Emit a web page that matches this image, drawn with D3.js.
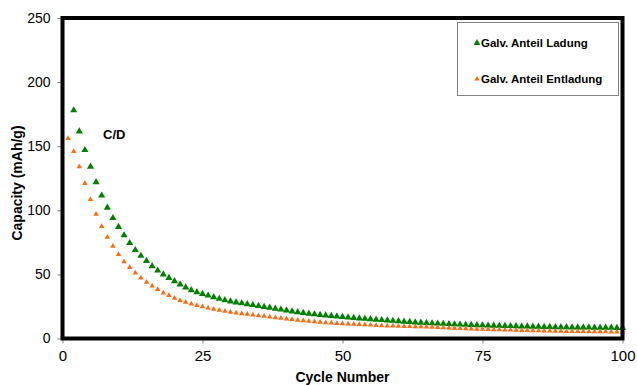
<!DOCTYPE html>
<html>
<head>
<meta charset="utf-8">
<script src="https://cdn.jsdelivr.net/npm/d3@7"></script>
<style>
  body { margin: 0; background: #fff; }
  text { font-family: "Liberation Sans", Arial, sans-serif; }
</style>
</head>
<body>
<svg id="chart" width="637" height="385"></svg>
<script>
// Data
const chargeCycleStart = 2; // Ladung starts at cycle 2
const chargeValues = [
  178, 161.5, 147, 134, 122, 111.5, 102, 94, 87, 80.5,
  74.5, 69, 64.5, 60.5, 56.5, 53, 50, 47.3, 44.7, 42.2,
  39.9, 37.7, 36.2, 34.8, 33.5, 32.2, 31.0, 29.9, 29.0, 28.2,
  27.5, 26.8, 26.1, 25.4, 24.7, 24.0, 23.3, 22.6, 21.9, 21.2,
  20.5, 19.9, 19.4, 18.9, 18.4, 18.0, 17.6, 17.2, 16.8, 16.4,
  16.1, 15.7, 15.4, 15.1, 14.7, 14.4, 14.1, 13.8, 13.5, 13.2,
  12.9, 12.6, 12.3, 12.1, 11.9, 11.7, 11.5, 11.3, 11.1, 10.9,
  10.7, 10.6, 10.4, 10.3, 10.1, 10.0, 9.9, 9.8, 9.7, 9.6,
  9.5, 9.4, 9.3, 9.2, 9.1, 9.0, 8.9, 8.8, 8.8, 8.7,
  8.7, 8.6, 8.6, 8.5, 8.5, 8.4, 8.4, 8.3, 8.3,
];
const dischargeCycleStart = 1; // Entladung starts at cycle 1
const dischargeValues = [
  156, 146, 134, 121, 108.5, 97, 87.5, 79, 72, 65.5,
  60, 55.4, 51.2, 47.3, 44, 41, 38.2, 35.6, 33.6, 31.5,
  29.8, 28.3, 27.0, 25.8, 24.8, 23.8, 22.9, 22.1, 21.3, 20.6,
  20.0, 19.4, 18.9, 18.4, 17.9, 17.4, 16.8, 16.3, 15.8, 15.3,
  14.8, 14.3, 13.9, 13.5, 13.1, 12.7, 12.4, 12.1, 11.8, 11.5,
  11.3, 11.1, 10.9, 10.7, 10.5, 10.3, 10.1, 9.9, 9.8, 9.7,
  9.5, 9.4, 9.3, 9.2, 9.0, 8.8, 8.6, 8.4, 8.2, 8.0,
  7.8, 7.6, 7.5, 7.3, 7.2, 7.0, 6.9, 6.8, 6.7, 6.6,
  6.5, 6.4, 6.3, 6.2, 6.1, 6.0, 5.9, 5.8, 5.7, 5.6,
  5.6, 5.5, 5.5, 5.4, 5.4, 5.3, 5.3, 5.2, 5.2, 5.1,
];
const xTicks = [0, 25, 50, 75, 100];
const yTicks = [0, 50, 100, 150, 200, 250];
const seriesNames = ['Galv. Anteil Ladung', 'Galv. Anteil Entladung'];

// Layout
const margin = { top: 18, right: 14.5, bottom: 46.5, left: 62.5 };
const svg = d3.select('#chart');
const width = 637 - margin.left - margin.right;
const height = 385 - margin.top - margin.bottom;

const x = d3.scaleLinear().domain([0, 100]).range([0, width]);
const y = d3.scaleLinear().domain([0, 250]).range([height, 0]);

const green = '#008000';
const orange = '#ff6a10';

const g = svg.append('g')
  .attr('transform', `translate(${margin.left},${margin.top})`);

// Axes (ticks only, frame drawn separately)
const xAxis = g.append('g')
  .attr('transform', `translate(0,${height})`)
  .call(d3.axisBottom(x).tickValues(xTicks).tickSize(5).tickPadding(7));
const yAxis = g.append('g')
  .call(d3.axisLeft(y).tickValues(yTicks).tickSize(5).tickPadding(7));

[xAxis, yAxis].forEach((ax) => {
  ax.select('.domain').remove();
  ax.selectAll('.tick line').attr('stroke', '#808080');
  ax.selectAll('.tick text')
    .attr('fill', '#000')
    .style('font-family', '"Liberation Sans", Arial, sans-serif');
});
xAxis.selectAll('.tick text').style('font-size', '15px');
yAxis.selectAll('.tick text').style('font-size', '14px');

// Points
const tri = d3.symbol().type(d3.symbolTriangle);

const chargeData = chargeValues.map((v, i) => ({ c: chargeCycleStart + i, v }));
const dischargeData = dischargeValues.map((v, i) => ({ c: dischargeCycleStart + i, v }));

g.append('g').selectAll('path')
  .data(chargeData)
  .enter().append('path')
  .attr('d', tri.size(22)())
  .attr('fill', green)
  .attr('transform', (d) => `translate(${x(d.c)},${y(d.v)})`);

g.append('g').selectAll('path')
  .data(dischargeData)
  .enter().append('path')
  .attr('d', tri.size(13)())
  .attr('fill', orange)
  .attr('transform', (d) => `translate(${x(d.c)},${y(d.v)})`);

// Frame
g.append('rect')
  .attr('width', width)
  .attr('height', height)
  .attr('fill', 'none')
  .attr('stroke', '#000')
  .attr('stroke-width', 4);

// Label C/D
g.append('text')
  .attr('x', 103 - margin.left)
  .attr('y', 139 - margin.top)
  .style('font-size', '13px')
  .style('font-weight', 'bold')
  .text('C/D');

// Axis titles
svg.append('text')
  .attr('x', margin.left + width / 2)
  .attr('y', 382)
  .attr('text-anchor', 'middle')
  .style('font-size', '14px')
  .style('font-weight', 'bold')
  .text('Cycle Number');

svg.append('text')
  .attr('transform', 'translate(22,183) rotate(-90)')
  .attr('text-anchor', 'middle')
  .style('font-size', '14px')
  .style('font-weight', 'bold')
  .text('Capacity (mAh/g)');

// Legend
const legend = svg.append('g');
legend.append('rect')
  .attr('x', 457.5)
  .attr('y', 22.5)
  .attr('width', 161)
  .attr('height', 73)
  .attr('fill', '#fff')
  .attr('stroke', '#808080')
  .attr('stroke-width', 1);

const legendItems = [
  { name: seriesNames[0], color: green, size: 20, y: 43 },
  { name: seriesNames[1], color: orange, size: 12, y: 79 },
];
legendItems.forEach((item) => {
  legend.append('path')
    .attr('d', tri.size(item.size)())
    .attr('fill', item.color)
    .attr('transform', `translate(477,${item.y})`);
  legend.append('text')
    .attr('x', 481)
    .attr('y', item.y + 4)
    .style('font-size', '11.5px')
    .style('font-weight', 'bold')
    .text(item.name);
});
</script>
</body>
</html>
